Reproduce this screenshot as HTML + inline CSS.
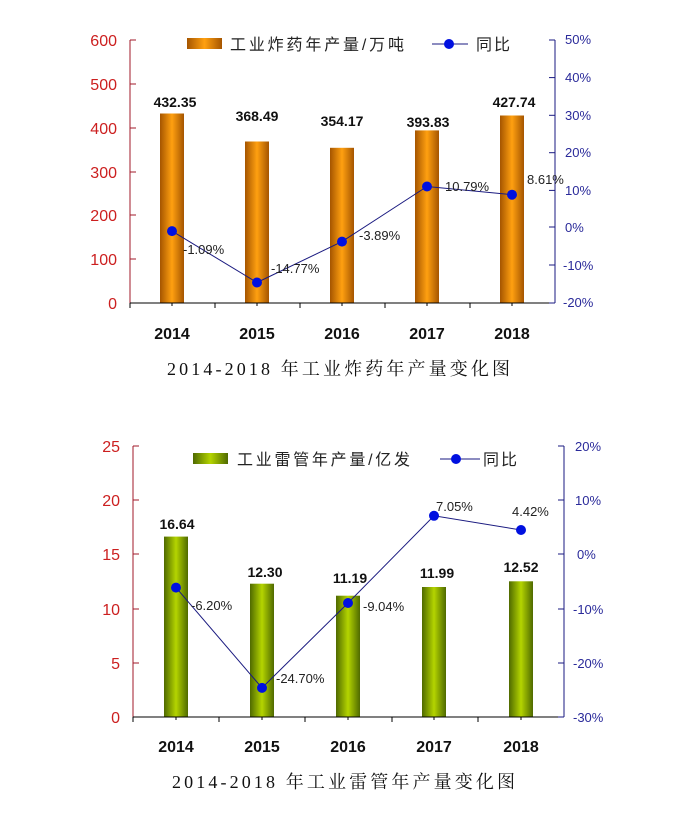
<!DOCTYPE html>
<html><head><meta charset="utf-8"><style>
html,body{margin:0;padding:0;background:#fff;}
svg{display:block;font-family:"Liberation Sans","Noto Sans CJK SC",sans-serif;}
</style></head><body>
<svg width="692" height="833" viewBox="0 0 692 833" xmlns="http://www.w3.org/2000/svg">
<defs>
<linearGradient id="og" x1="0" x2="1" y1="0" y2="0">
<stop offset="0" stop-color="#a55500"/><stop offset="0.5" stop-color="#ffa010"/><stop offset="1" stop-color="#a55500"/>
</linearGradient>
<linearGradient id="gg" x1="0" x2="1" y1="0" y2="0">
<stop offset="0" stop-color="#4f6a00"/><stop offset="0.5" stop-color="#b4d400"/><stop offset="1" stop-color="#4f6a00"/>
</linearGradient>
</defs>

<!-- TOP CHART -->
<g>
<rect x="160" y="113.5" width="24" height="189.5" fill="url(#og)"/>
<rect x="245" y="141.5" width="24" height="161.5" fill="url(#og)"/>
<rect x="330" y="147.8" width="24" height="155.2" fill="url(#og)"/>
<rect x="415" y="130.4" width="24" height="172.6" fill="url(#og)"/>
<rect x="500" y="115.5" width="24" height="187.5" fill="url(#og)"/>
<g font-size="14" font-weight="bold" text-anchor="middle" fill="#111">
<text x="175" y="107">432.35</text><text x="257" y="121">368.49</text><text x="342" y="126">354.17</text><text x="428" y="127">393.83</text><text x="514" y="107">427.74</text>
</g>
<line x1="130" y1="40" x2="130" y2="303" stroke="#a01828"/>
<g stroke="#a01828"><line x1="130" y1="40" x2="136" y2="40"/><line x1="130" y1="84" x2="136" y2="84"/><line x1="130" y1="128" x2="136" y2="128"/><line x1="130" y1="172" x2="136" y2="172"/><line x1="130" y1="215" x2="136" y2="215"/><line x1="130" y1="259" x2="136" y2="259"/></g>
<line x1="130" y1="303" x2="555" y2="303" stroke="#000"/>
<g stroke="#000"><line x1="130" y1="303" x2="130" y2="308"/><line x1="215" y1="303" x2="215" y2="308"/><line x1="300" y1="303" x2="300" y2="308"/><line x1="385" y1="303" x2="385" y2="308"/><line x1="470" y1="303" x2="470" y2="308"/><line x1="172" y1="303" x2="172" y2="306"/><line x1="257" y1="303" x2="257" y2="306"/><line x1="342" y1="303" x2="342" y2="306"/><line x1="427" y1="303" x2="427" y2="306"/><line x1="512" y1="303" x2="512" y2="306"/></g>
<g font-size="16" fill="#cc1f1f" text-anchor="end">
<text x="117" y="46">600</text><text x="117" y="90">500</text><text x="117" y="134">400</text><text x="117" y="178">300</text><text x="117" y="221">200</text><text x="117" y="265">100</text><text x="117" y="309">0</text>
</g>
<line x1="555" y1="40" x2="555" y2="303" stroke="#1a1a80"/>
<g stroke="#1a1a80"><line x1="549" y1="40" x2="555" y2="40"/><line x1="549" y1="77.6" x2="555" y2="77.6"/><line x1="549" y1="115.3" x2="555" y2="115.3"/><line x1="549" y1="152.7" x2="555" y2="152.7"/><line x1="549" y1="190.4" x2="555" y2="190.4"/><line x1="549" y1="227" x2="555" y2="227"/><line x1="549" y1="265" x2="555" y2="265"/><line x1="549" y1="303" x2="555" y2="303"/></g>
<g font-size="13" fill="#2a2a9a">
<text x="565" y="44">50%</text><text x="565" y="82">40%</text><text x="565" y="120">30%</text><text x="565" y="157">20%</text><text x="565" y="195">10%</text><text x="565" y="232">0%</text><text x="563" y="270">-10%</text><text x="563" y="307">-20%</text>
</g>
<polyline points="172,231.1 257,282.5 342,241.6 427,186.5 512,194.7" fill="none" stroke="#1a1a80" stroke-width="1"/>
<g fill="#0010e0"><circle cx="172" cy="231.1" r="5"/><circle cx="257" cy="282.5" r="5"/><circle cx="342" cy="241.6" r="5"/><circle cx="427" cy="186.5" r="5"/><circle cx="512" cy="194.7" r="5"/></g>
<g font-size="13" fill="#222">
<text x="183" y="254">-1.09%</text><text x="271" y="273">-14.77%</text><text x="359" y="240">-3.89%</text><text x="445" y="191">10.79%</text><text x="527" y="184">8.61%</text>
</g>
<rect x="187" y="38" width="35" height="11" fill="url(#og)"/>
<text x="230" y="50" font-size="16" fill="#222" textLength="174">工业炸药年产量/万吨</text>
<line x1="432" y1="44" x2="468" y2="44" stroke="#1a1a80"/><circle cx="449" cy="44" r="5" fill="#0010e0"/>
<text x="476" y="50" font-size="16" fill="#222" textLength="34">同比</text>
<g font-size="16" font-weight="bold" text-anchor="middle" fill="#111">
<text x="172" y="339">2014</text><text x="257" y="339">2015</text><text x="342" y="339">2016</text><text x="427" y="339">2017</text><text x="512" y="339">2018</text>
</g>
<text x="167" y="375" font-size="18" textLength="343" font-family="'Liberation Serif','Noto Serif CJK SC',serif" fill="#111">2014-2018 年工业炸药年产量变化图</text>
</g>

<!-- BOTTOM CHART -->
<g>
<rect x="164" y="536.6" width="24" height="180.4" fill="url(#gg)"/>
<rect x="250" y="583.7" width="24" height="133.3" fill="url(#gg)"/>
<rect x="336" y="595.7" width="24" height="121.3" fill="url(#gg)"/>
<rect x="422" y="587" width="24" height="130" fill="url(#gg)"/>
<rect x="509" y="581.3" width="24" height="135.7" fill="url(#gg)"/>
<g font-size="14" font-weight="bold" text-anchor="middle" fill="#111">
<text x="177" y="529">16.64</text><text x="265" y="577">12.30</text><text x="350" y="583">11.19</text><text x="437" y="578">11.99</text><text x="521" y="572">12.52</text>
</g>
<line x1="133" y1="446" x2="133" y2="717" stroke="#a01828"/>
<g stroke="#a01828"><line x1="133" y1="446" x2="139" y2="446"/><line x1="133" y1="500" x2="139" y2="500"/><line x1="133" y1="554" x2="139" y2="554"/><line x1="133" y1="609" x2="139" y2="609"/><line x1="133" y1="663" x2="139" y2="663"/></g>
<line x1="133" y1="717" x2="564" y2="717" stroke="#000"/>
<g stroke="#000"><line x1="133" y1="717" x2="133" y2="722"/><line x1="219" y1="717" x2="219" y2="722"/><line x1="305" y1="717" x2="305" y2="722"/><line x1="392" y1="717" x2="392" y2="722"/><line x1="478" y1="717" x2="478" y2="722"/><line x1="176" y1="717" x2="176" y2="720"/><line x1="262" y1="717" x2="262" y2="720"/><line x1="348" y1="717" x2="348" y2="720"/><line x1="434" y1="717" x2="434" y2="720"/><line x1="521" y1="717" x2="521" y2="720"/></g>
<g font-size="16" fill="#cc1f1f" text-anchor="end">
<text x="120" y="452">25</text><text x="120" y="506">20</text><text x="120" y="560">15</text><text x="120" y="615">10</text><text x="120" y="669">5</text><text x="120" y="723">0</text>
</g>
<line x1="564" y1="446" x2="564" y2="717" stroke="#1a1a80"/>
<g stroke="#1a1a80"><line x1="558" y1="446" x2="564" y2="446"/><line x1="558" y1="500" x2="564" y2="500"/><line x1="558" y1="554" x2="564" y2="554"/><line x1="558" y1="609" x2="564" y2="609"/><line x1="558" y1="663" x2="564" y2="663"/><line x1="558" y1="717" x2="564" y2="717"/></g>
<g font-size="13" fill="#2a2a9a">
<text x="575" y="451">20%</text><text x="575" y="505">10%</text><text x="577" y="559">0%</text><text x="573" y="614">-10%</text><text x="573" y="668">-20%</text><text x="573" y="722">-30%</text>
</g>
<polyline points="176,587.6 262,687.9 348,603 434,515.8 521,530" fill="none" stroke="#1a1a80" stroke-width="1"/>
<g fill="#0010e0"><circle cx="176" cy="587.6" r="5"/><circle cx="262" cy="687.9" r="5"/><circle cx="348" cy="603" r="5"/><circle cx="434" cy="515.8" r="5"/><circle cx="521" cy="530" r="5"/></g>
<g font-size="13" fill="#222">
<text x="191" y="610">-6.20%</text><text x="276" y="683">-24.70%</text><text x="363" y="611">-9.04%</text><text x="436" y="511">7.05%</text><text x="512" y="516">4.42%</text>
</g>
<rect x="193" y="453" width="35" height="11" fill="url(#gg)"/>
<text x="237" y="465" font-size="16" fill="#222" textLength="173">工业雷管年产量/亿发</text>
<line x1="440" y1="459" x2="480" y2="459" stroke="#1a1a80"/><circle cx="456" cy="459" r="5" fill="#0010e0"/>
<text x="483" y="465" font-size="16" fill="#222" textLength="34">同比</text>
<g font-size="16" font-weight="bold" text-anchor="middle" fill="#111">
<text x="176" y="752">2014</text><text x="262" y="752">2015</text><text x="348" y="752">2016</text><text x="434" y="752">2017</text><text x="521" y="752">2018</text>
</g>
<text x="172" y="788" font-size="18" textLength="343" font-family="'Liberation Serif','Noto Serif CJK SC',serif" fill="#111">2014-2018 年工业雷管年产量变化图</text>
</g>
</svg>
</body></html>
